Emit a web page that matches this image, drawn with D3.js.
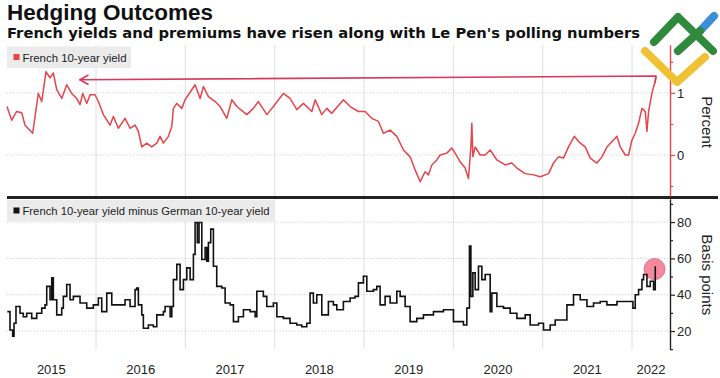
<!DOCTYPE html>
<html>
<head>
<meta charset="utf-8">
<script src="https://cdn.jsdelivr.net/npm/d3@7"></script>
<style>
  body { margin: 0; background: #fff; }
  svg { display: block; font-family: 'Liberation Sans', Arial, sans-serif; }
</style>
</head>
<body>
<div id="chart"></div>
<script>
// French 10-year yield, percent (time as decimal years)
const yieldYears = [
  2015.003, 2015.056, 2015.112, 2015.168, 2015.205, 2015.291, 2015.336, 2015.354, 2015.392, 2015.440,
  2015.485, 2015.522, 2015.560, 2015.616, 2015.672, 2015.728, 2015.784, 2015.821, 2015.851, 2015.896,
  2015.933, 2015.989, 2016.026, 2016.082, 2016.157, 2016.194, 2016.250, 2016.325, 2016.381, 2016.437,
  2016.474, 2016.512, 2016.568, 2016.624, 2016.680, 2016.717, 2016.754, 2016.810, 2016.848, 2016.866,
  2016.904, 2016.960, 2016.997, 2017.072, 2017.109, 2017.165, 2017.202, 2017.258, 2017.333, 2017.389,
  2017.464, 2017.520, 2017.576, 2017.688, 2017.761, 2017.817, 2017.912, 2017.985, 2018.097, 2018.172,
  2018.247, 2018.321, 2018.416, 2018.453, 2018.527, 2018.583, 2018.639, 2018.769, 2018.844, 2018.937,
  2019.012, 2019.087, 2019.161, 2019.217, 2019.292, 2019.367, 2019.441, 2019.516, 2019.572, 2019.628,
  2019.684, 2019.721, 2019.759, 2019.815, 2019.852, 2019.927, 2019.983, 2020.020, 2020.076, 2020.132,
  2020.169, 2020.196, 2020.207, 2020.218, 2020.244, 2020.300, 2020.356, 2020.412, 2020.487, 2020.580,
  2020.655, 2020.711, 2020.804, 2020.897, 2020.972, 2021.065, 2021.121, 2021.177, 2021.233, 2021.289,
  2021.353, 2021.420, 2021.476, 2021.532, 2021.607, 2021.663, 2021.719, 2021.793, 2021.831, 2021.868,
  2021.924, 2021.961, 2021.999, 2022.036, 2022.073, 2022.111, 2022.148, 2022.167, 2022.185, 2022.223,
  2022.241, 2022.260, 2022.268
];
const yieldValues = [
  0.78, 0.56, 0.70, 0.68, 0.48, 0.35, 0.81, 0.99, 0.86, 1.34,
  1.24, 1.32, 1.05, 0.91, 1.13, 0.99, 0.91, 0.81, 0.99, 0.83,
  0.97, 0.97, 0.86, 0.65, 0.48, 0.62, 0.43, 0.59, 0.43, 0.48,
  0.38, 0.13, 0.19, 0.13, 0.19, 0.30, 0.19, 0.30, 0.46, 0.75,
  0.83, 0.75, 0.89, 1.05, 1.13, 0.91, 1.10, 0.94, 0.86, 0.78,
  0.59, 0.89, 0.78, 0.65, 0.75, 0.86, 0.65, 0.78, 0.99, 0.91,
  0.73, 0.83, 0.70, 0.89, 0.65, 0.75, 0.67, 0.89, 0.78, 0.70,
  0.70, 0.59, 0.54, 0.35, 0.40, 0.30, 0.08, -0.03, -0.24, -0.43,
  -0.27, -0.32, -0.16, -0.08, 0.00, 0.03, 0.11, 0.03, -0.11, -0.21,
  -0.38, 0.13, 0.51, -0.03, 0.13, 0.00, 0.00, 0.08, -0.08, -0.16,
  -0.13, -0.21, -0.30, -0.32, -0.35, -0.30, -0.13, -0.03, -0.05, 0.13,
  0.30, 0.19, 0.13, -0.05, -0.13, -0.03, 0.13, 0.24, 0.30, 0.13,
  0.00, 0.00, 0.24, 0.35, 0.51, 0.75, 0.70, 0.38, 0.70, 0.99,
  1.10, 1.18, 1.26
];

// French minus German 10-year yield, basis points
const spreadYears = [
  2015.007, 2015.037, 2015.067, 2015.082, 2015.104, 2015.149, 2015.186, 2015.224, 2015.280, 2015.336,
  2015.392, 2015.429, 2015.448, 2015.485, 2015.504, 2015.522, 2015.560, 2015.616, 2015.634, 2015.672,
  2015.709, 2015.746, 2015.821, 2015.896, 2015.970, 2016.026, 2016.064, 2016.120, 2016.176, 2016.250,
  2016.325, 2016.381, 2016.437, 2016.456, 2016.474, 2016.512, 2016.530, 2016.586, 2016.642, 2016.680,
  2016.754, 2016.773, 2016.829, 2016.848, 2016.866, 2016.904, 2016.941, 2016.978, 2017.016, 2017.053,
  2017.090, 2017.109, 2017.134, 2017.153, 2017.184, 2017.221, 2017.240, 2017.258, 2017.284, 2017.314,
  2017.351, 2017.408, 2017.445, 2017.501, 2017.538, 2017.594, 2017.650, 2017.725, 2017.781, 2017.800,
  2017.873, 2017.911, 2017.985, 2018.024, 2018.097, 2018.172, 2018.247, 2018.303, 2018.359, 2018.396,
  2018.433, 2018.471, 2018.527, 2018.601, 2018.657, 2018.695, 2018.769, 2018.844, 2018.899, 2018.937,
  2018.993, 2019.031, 2019.105, 2019.143, 2019.180, 2019.236, 2019.292, 2019.367, 2019.404, 2019.460,
  2019.516, 2019.591, 2019.665, 2019.777, 2019.889, 2020.001, 2020.113, 2020.151, 2020.180, 2020.196,
  2020.218, 2020.244, 2020.281, 2020.319, 2020.356, 2020.412, 2020.431, 2020.487, 2020.561, 2020.636,
  2020.711, 2020.804, 2020.860, 2020.953, 2021.009, 2021.084, 2021.140, 2021.252, 2021.271, 2021.345,
  2021.420, 2021.495, 2021.569, 2021.644, 2021.719, 2021.831, 2021.980, 2022.010, 2022.036, 2022.073,
  2022.111, 2022.129, 2022.167, 2022.204, 2022.241, 2022.260
];
const spreadValues = [
  30.7, 20.6, 17.2, 24.3, 33.5, 29.8, 27.9, 29.8, 27.0, 29.8,
  32.6, 34.4, 44.6, 37.2, 49.3, 37.2, 28.9, 32.6, 39.1, 45.6,
  37.2, 39.1, 35.4, 32.6, 34.4, 38.2, 30.7, 40.9, 34.4, 34.4,
  37.2, 33.5, 42.8, 43.7, 34.4, 28.9, 21.5, 23.3, 22.4, 28.9,
  30.7, 33.5, 27.9, 33.5, 48.3, 56.7, 42.8, 48.3, 54.8, 48.3,
  62.2, 79.8, 68.7, 79.8, 59.4, 65.9, 58.5, 68.7, 76.1, 55.7,
  44.6, 43.7, 35.4, 34.4, 25.2, 27.9, 31.7, 30.7, 27.9, 41.9,
  39.1, 33.5, 35.4, 27.9, 27.0, 24.3, 23.3, 22.4, 24.3, 40.9,
  35.4, 40.0, 28.9, 36.3, 34.4, 31.7, 36.3, 38.2, 39.1, 46.5,
  50.2, 41.9, 42.8, 44.6, 34.4, 39.1, 35.4, 41.9, 39.1, 33.5,
  25.2, 27.0, 28.9, 30.7, 31.7, 25.2, 23.3, 32.6, 66.8, 39.1,
  52.0, 42.8, 55.7, 48.3, 51.1, 30.7, 40.9, 33.5, 32.6, 29.8,
  27.0, 28.9, 23.3, 24.3, 20.6, 23.3, 26.1, 26.1, 34.4, 40.0,
  37.2, 33.5, 35.4, 36.3, 34.4, 36.3, 36.3, 32.6, 40.0, 42.8,
  48.3, 51.1, 44.6, 47.4, 42.8, 55.7
];

const yearLabels = [2015, 2016, 2017, 2018, 2019, 2020, 2021, 2022];
const yieldTicks = [0, 1];
const yieldMinorTicks = [-0.5, 0.5, 1.5];
const spreadTicks = [20, 40, 60, 80];
const spreadMinorTicks = [10, 30, 50, 70, 90];

// annotations, in data units
const arrowStart = [2022.268, 1.27];
const arrowEnd = [2015.82, 1.21];
const markerPoint = [2022.252, 54.1];

const width = 720;
const height = 378;
const plotLeft = 6.7;
const plotRight = 670;
const endYear = 2022.425;

const red = '#e8434b';
const crimson = '#d8385c';

const svg = d3.select('#chart')
  .append('svg')
  .attr('width', width)
  .attr('height', height)
  .attr('viewBox', [0, 0, width, height]);

const x = d3.scaleLinear().domain([2015, endYear]).range([plotLeft, plotRight]);
const yTop = d3.scaleLinear().domain([-0.66, 1.77]).range([196, 45]);
const yBot = d3.scaleLinear().domain([10, 92.7]).range([349.2, 199]);

// titles
svg.append('text')
  .attr('x', 7).attr('y', 20)
  .attr('font-size', 22).attr('font-weight', 700).attr('fill', '#111')
  .attr('textLength', 206).attr('lengthAdjust', 'spacingAndGlyphs')
  .text('Hedging Outcomes');
svg.append('text')
  .attr('x', 7).attr('y', 37.5)
  .attr('font-family', "'DejaVu Sans', Verdana, sans-serif")
  .attr('font-size', 14).attr('font-weight', 700).attr('fill', '#111')
  .attr('textLength', 633).attr('lengthAdjust', 'spacingAndGlyphs')
  .text("French yields and premiums have risen along with Le Pen's polling numbers");

// vertical year grid, both panels
svg.append('g')
  .selectAll('line')
  .data(yearLabels.slice(1))
  .join('line')
  .attr('x1', (d) => x(d)).attr('x2', (d) => x(d))
  .attr('y1', 45).attr('y2', 349)
  .attr('stroke', '#dedede').attr('stroke-width', 1);

// horizontal dotted grid
svg.append('g')
  .selectAll('line')
  .data(yieldTicks)
  .join('line')
  .attr('x1', plotLeft).attr('x2', plotRight)
  .attr('y1', (d) => yTop(d)).attr('y2', (d) => yTop(d))
  .attr('stroke', '#d4d4d4').attr('stroke-dasharray', '1.5,1.5');
svg.append('g')
  .selectAll('line')
  .data(spreadTicks)
  .join('line')
  .attr('x1', plotLeft).attr('x2', plotRight)
  .attr('y1', (d) => yBot(d)).attr('y2', (d) => yBot(d))
  .attr('stroke', '#d4d4d4').attr('stroke-dasharray', '1.5,1.5');

// legends
const legends = [
  { y: 46.5, w: 124, tw: 104, color: red, label: 'French 10-year yield' },
  { y: 200, w: 268, tw: 247, color: '#111', label: 'French 10-year yield minus German 10-year yield' },
];
legends.forEach((l) => {
  const g = svg.append('g').attr('transform', `translate(7,${l.y})`);
  g.append('rect').attr('width', l.w).attr('height', 21.5).attr('fill', '#ebebeb');
  g.append('rect').attr('x', 6.5).attr('y', 7.5).attr('width', 6).attr('height', 6).attr('fill', l.color);
  g.append('text').attr('x', 15.5).attr('y', 15).attr('font-size', 11.5).attr('fill', '#222')
    .attr('textLength', l.tw).attr('lengthAdjust', 'spacingAndGlyphs')
    .text(l.label);
});

// yield line
const yieldData = yieldYears.map((t, i) => [t, yieldValues[i]]);
svg.append('path')
  .datum(yieldData)
  .attr('fill', 'none')
  .attr('stroke', red)
  .attr('stroke-width', 1.5)
  .attr('stroke-linejoin', 'round')
  .attr('d', d3.line().x((d) => x(d[0])).y((d) => yTop(d[1])));

// arrow back to the 2015 high
const ax0 = x(arrowStart[0]);
const ay0 = yTop(arrowStart[1]);
const ax1 = x(arrowEnd[0]);
const ay1 = yTop(arrowEnd[1]);
const arrow = svg.append('g')
  .attr('fill', 'none').attr('stroke', crimson).attr('stroke-width', 1.6)
  .attr('stroke-linecap', 'round').attr('stroke-linejoin', 'round');
arrow.append('path')
  .attr('d', `M${ax0 - 1},${yTop(arrowStart[1] - 0.1)}L${ax0},${ay0}L${ax1},${ay1}`);
arrow.append('path')
  .attr('d', `M${ax1 + 8},${ay1 - 4.5}L${ax1},${ay1}L${ax1 + 8},${ay1 + 4.5}`);

// spread marker circle
svg.append('circle')
  .attr('cx', x(markerPoint[0]))
  .attr('cy', yBot(markerPoint[1]))
  .attr('r', 10.5)
  .attr('fill', '#f3899c')
  .attr('stroke', '#e7738a')
  .attr('stroke-width', 1);

// spread line
const spreadData = spreadYears.map((t, i) => [t, spreadValues[i]]);
svg.append('path')
  .datum(spreadData)
  .attr('fill', 'none')
  .attr('stroke', '#111')
  .attr('stroke-width', 1.6)
  .attr('d', d3.line().curve(d3.curveStepAfter).x((d) => x(d[0])).y((d) => yBot(d[1])));

// panel separator
svg.append('line')
  .attr('x1', 7).attr('x2', 718)
  .attr('y1', 197.5).attr('y2', 197.5)
  .attr('stroke', '#222').attr('stroke-width', 3);

// right axes
const styleAxis = (g, color) => {
  g.select('.domain').attr('stroke', color).attr('stroke-width', 1.2);
  g.selectAll('.tick line').attr('stroke', color).attr('stroke-width', 1.2);
  g.selectAll('.tick text').attr('fill', '#222').attr('font-size', 13)
    .attr('font-family', "'Liberation Sans', Arial, sans-serif");
};

svg.append('g')
  .attr('transform', `translate(${plotRight},0)`)
  .call(d3.axisRight(yTop).tickValues(yieldTicks).tickFormat((d) => d).tickSize(5).tickPadding(2).tickSizeOuter(0))
  .call((g) => styleAxis(g, red));
svg.append('g')
  .attr('transform', `translate(${plotRight},0)`)
  .call(d3.axisRight(yTop).tickValues(yieldMinorTicks).tickSize(3).tickFormat('').tickSizeOuter(0))
  .call((g) => styleAxis(g, red));

svg.append('g')
  .attr('transform', `translate(${plotRight},0)`)
  .call(d3.axisRight(yBot).tickValues(spreadTicks).tickSize(5).tickPadding(2).tickSizeOuter(0))
  .call((g) => styleAxis(g, '#222'));
svg.append('g')
  .attr('transform', `translate(${plotRight},0)`)
  .call(d3.axisRight(yBot).tickValues(spreadMinorTicks).tickSize(3).tickFormat('').tickSizeOuter(0))
  .call((g) => styleAxis(g, '#222'));

// axis titles
svg.append('text')
  .attr('transform', `translate(702,${yTop(0.53)}) rotate(90)`)
  .attr('text-anchor', 'middle')
  .attr('font-size', 15).attr('fill', '#222')
  .text('Percent');
svg.append('text')
  .attr('transform', `translate(702,${yBot(51)}) rotate(90)`)
  .attr('text-anchor', 'middle')
  .attr('font-size', 15).attr('fill', '#222')
  .text('Basis points');

// year labels, centred in each year
svg.append('g')
  .selectAll('text')
  .data(yearLabels)
  .join('text')
  .attr('x', (d) => x((d + Math.min(d + 1, endYear)) / 2))
  .attr('y', 374)
  .attr('text-anchor', 'middle')
  .attr('font-size', 13).attr('fill', '#222')
  .text((d) => d);

// watermark logo
const logo = svg.append('g')
  .attr('fill', 'none').attr('stroke-width', 8)
  .attr('stroke-linecap', 'round').attr('stroke-linejoin', 'round');
logo.append('path').attr('stroke', '#f0c132').attr('d', 'M645,51L677,82L705,57');
logo.append('path').attr('stroke', '#3a8fd8').attr('d', 'M700,31L714,16');
logo.append('path').attr('stroke', '#2f8a3b').attr('d', 'M654,42L678,17L713,51M678,51L700,31');
</script>
</body>
</html>
